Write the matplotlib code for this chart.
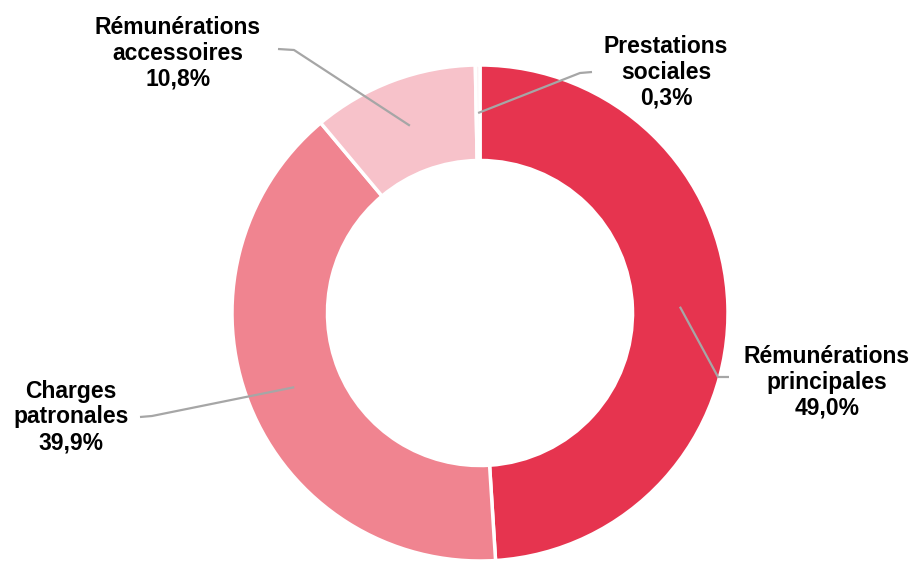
import numpy as np
import matplotlib.pyplot as plt

# Répartition des dépenses de personnel
categories = ["Rémunérations\nprincipales", "Charges\npatronales",
              "Rémunérations\naccessoires", "Prestations\nsociales"]
values = [49.0, 39.9, 10.8, 0.3]
labels_pct = ["49,0%", "39,9%", "10,8%", "0,3%"]
colors = ["#E6344F", "#F08490", "#F7C2CA", "#FCEFF1"]

W, H = 915, 561
fig = plt.figure(figsize=(W / 100, H / 100), dpi=100)
ax = fig.add_axes([0, 0, 1, 1])
ax.set_xlim(0, W)
ax.set_ylim(0, H)
ax.set_aspect("equal")
ax.axis("off")

cx, cy, R = 480, H - 313, 248
wedges, _ = ax.pie(values, colors=colors, startangle=90, counterclock=False,
                   radius=R, center=(cx, cy), frame=True,
                   wedgeprops=dict(width=R * 0.385, edgecolor="white", linewidth=2.5))
ax.set_xlim(0, W)
ax.set_ylim(0, H)
ax.axis("off")

# label placement (pixel coords, y measured from the top)
text_pos = [(827, 382), (71, 417), (178, 53), (666, 72)]
elbows = [((718, 377), (729, 377)), ((152, 416), (140, 417)),
          ((294, 50), (278, 49)), ((580, 73), (592, 72))]

total = sum(values)
cum = 0.0
for i, v in enumerate(values):
    mid = np.deg2rad(90 - 360 * (cum + v / 2) / total)
    cum += v
    ax_pt = (cx + 200 * np.cos(mid), cy + 200 * np.sin(mid))
    (ex, ey), (tx, ty) = elbows[i]
    ax.plot([ax_pt[0], ex, tx], [ax_pt[1], H - ey, H - ty],
            color="#A6A6A6", lw=1.6, solid_capstyle="butt", zorder=5)
    px, py = text_pos[i]
    ax.text(px, H - py, categories[i] + "\n" + labels_pct[i],
            ha="center", va="center", multialignment="center",
            fontsize=16.5, fontweight="bold", family="Liberation Sans",
            linespacing=1.15, color="black")

fig.savefig("out.png", dpi=100, facecolor="white")
